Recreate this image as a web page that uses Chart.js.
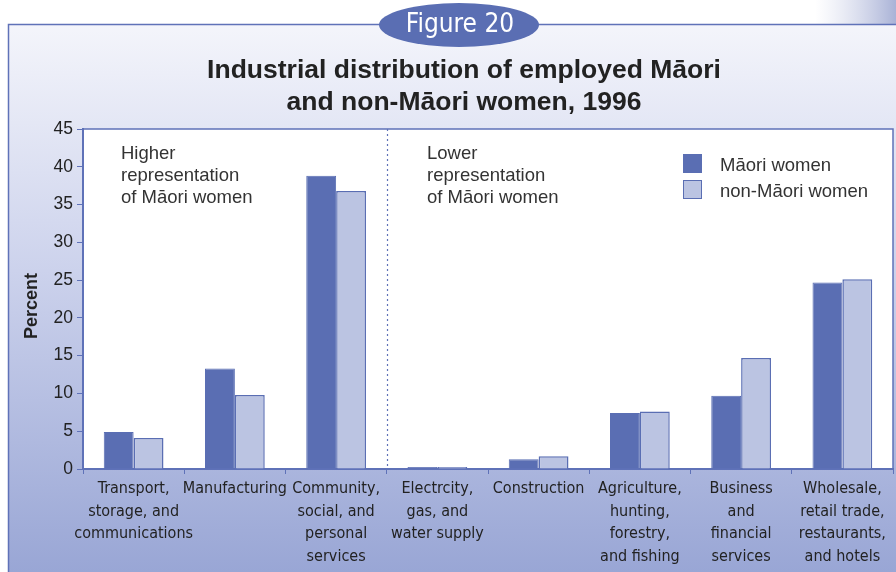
<!DOCTYPE html>
<html>
<head>
<meta charset="utf-8">
<script src="https://cdn.jsdelivr.net/npm/chart.js@4.4.1/dist/chart.umd.min.js"></script>
<style>
  html, body { margin: 0; padding: 0; background: #fff; }
  #wrap { width: 896px; height: 572px; position: relative; }
</style>
</head>
<body>
<div id="wrap"><canvas id="c" width="896" height="572"></canvas></div>
<script>
// Industrial distribution of employed Māori and non-Māori women, 1996
const categories = [
  ["Transport,", "storage, and", "communications"],
  ["Manufacturing"],
  ["Community,", "social, and", "personal", "services"],
  ["Electrcity,", "gas, and", "water supply"],
  ["Construction"],
  ["Agriculture,", "hunting,", "forestry,", "and fishing"],
  ["Business", "and", "financial", "services"],
  ["Wholesale,", "retail trade,", "restaurants,", "and hotels"],
];
const maoriWomen    = [4.9, 13.3, 38.8, 0.25, 1.3, 7.4, 9.7, 24.7];
const nonMaoriWomen = [4.1, 9.8, 36.8, 0.25, 1.7, 7.6, 14.7, 25.1];
const yTicks = [0, 5, 10, 15, 20, 25, 30, 35, 40, 45];

const C = {
  dark: "#5a6eb3", light: "#bbc4e2", edge: "#5a6eb3",
  ink: "#222", axis: "#5f72b8",
};
const SANS = "'Liberation Sans', Arial, sans-serif";
const NARROW = "'Liberation Sans Narrow', 'DejaVu Sans Condensed', 'Liberation Sans', sans-serif";

const decor = {
  id: "decor",
  beforeDraw(chart) {
    const { ctx, width, height } = chart;
    ctx.save();
    ctx.fillStyle = "#fff";
    ctx.fillRect(0, 0, width, height);
    // panel gradient
    const g = ctx.createLinearGradient(0, 24, 0, height);
    g.addColorStop(0, "#f4f5fb");
    g.addColorStop(0.45, "#ccd2ec");
    g.addColorStop(1, "#99a6d5");
    ctx.fillStyle = g;
    ctx.fillRect(8, 24, width - 8, height - 24);
    // corner decoration
    const cg = ctx.createLinearGradient(815, 0, 896, 0);
    cg.addColorStop(0, "rgba(200,205,230,0)");
    cg.addColorStop(1, "rgba(160,170,210,0.9)");
    ctx.fillStyle = cg;
    ctx.fillRect(815, 0, 81, 24);
    ctx.strokeStyle = C.axis;
    ctx.lineWidth = 1.5;
    ctx.beginPath();
    ctx.moveTo(8.5, height);
    ctx.lineTo(8.5, 24.5);
    ctx.lineTo(width, 24.5);
    ctx.stroke();
    // plot background
    const a = chart.chartArea;
    ctx.fillStyle = "#fff";
    ctx.fillRect(a.left, a.top, a.right - a.left, a.bottom - a.top);
    ctx.restore();
  },
  afterDraw(chart) {
    const { ctx } = chart;
    const a = chart.chartArea;
    const x = chart.scales.x;
    ctx.save();
    // plot frame (top and right)
    ctx.strokeStyle = C.axis;
    ctx.lineWidth = 1.5;
    ctx.beginPath();
    ctx.moveTo(a.left, a.top);
    ctx.lineTo(a.right, a.top);
    ctx.lineTo(a.right, a.bottom);
    ctx.stroke();
    // dotted divider between the two groups
    const dx = Math.round((x.getPixelForValue(2) + x.getPixelForValue(3)) / 2) + 0.5;
    ctx.setLineDash([2, 3]);
    ctx.lineWidth = 1.2;
    ctx.beginPath();
    ctx.moveTo(dx, a.top);
    ctx.lineTo(dx, a.bottom);
    ctx.stroke();
    ctx.setLineDash([]);

    // Figure oval
    ctx.fillStyle = C.dark;
    ctx.beginPath();
    ctx.ellipse(459, 25, 80, 22, 0, 0, Math.PI * 2);
    ctx.fill();
    ctx.fillStyle = "#fff";
    ctx.font = "26px " + NARROW;
    ctx.textAlign = "center";
    ctx.textBaseline = "middle";
    ctx.fillText("Figure 20", 460, 25);

    // title
    ctx.fillStyle = "#222";
    ctx.font = "bold 26.5px " + SANS;
    ctx.textBaseline = "alphabetic";
    ctx.fillText("Industrial distribution of employed Māori", 464, 78);
    ctx.fillText("and non-Māori women, 1996", 464, 110);

    // y title
    ctx.save();
    ctx.translate(37, 306);
    ctx.rotate(-Math.PI / 2);
    ctx.font = "bold 18px " + SANS;
    ctx.fillText("Percent", 0, 0);
    ctx.restore();

    // group notes
    ctx.textAlign = "left";
    ctx.fillStyle = "#333";
    ctx.font = "18.5px " + SANS;
    ["Higher", "representation", "of Māori women"].forEach((t, i) => ctx.fillText(t, 121, 159 + i * 22));
    ["Lower", "representation", "of Māori women"].forEach((t, i) => ctx.fillText(t, 427, 159 + i * 22));

    // legend
    const items = [["Māori women", C.dark], ["non-Māori women", C.light]];
    items.forEach(([t, col], i) => {
      const ly = 154 + i * 26;
      ctx.fillStyle = col;
      ctx.fillRect(683, ly, 19, 19);
      ctx.strokeStyle = C.edge;
      ctx.lineWidth = 1;
      ctx.strokeRect(683.5, ly + 0.5, 18, 18);
      ctx.fillStyle = "#333";
      ctx.fillText(t, 720, ly + 17);
    });
    ctx.restore();
  },
};

new Chart(document.getElementById("c"), {
  type: "bar",
  data: {
    labels: categories,
    datasets: [
      { label: "Māori women", data: maoriWomen, backgroundColor: C.dark, borderColor: C.edge, borderWidth: 1 },
      { label: "non-Māori women", data: nonMaoriWomen, backgroundColor: C.light, borderColor: C.edge, borderWidth: 1.5 },
    ],
  },
  options: {
    responsive: false,
    animation: false,
    layout: { padding: { top: 129, right: 3, left: 0, bottom: 0 } },
    datasets: { bar: { categoryPercentage: 0.59, barPercentage: 1 } },
    scales: {
      x: {
        grid: { drawOnChartArea: false, drawTicks: true, tickLength: 5, color: C.axis, offset: true },
        border: { color: C.axis, width: 2 },
        ticks: { color: C.ink, font: { family: NARROW, size: 16, lineHeight: 1.4 }, maxRotation: 0, autoSkip: false, padding: 4 },
        afterFit(s) { s.height = 103; },
      },
      y: {
        min: 0, max: 45,
        afterBuildTicks(s) { s.ticks = yTicks.map((v) => ({ value: v })); },
        grid: { drawOnChartArea: false, drawTicks: true, tickLength: 6, color: C.axis },
        border: { color: C.axis, width: 2 },
        ticks: { color: C.ink, font: { family: SANS, size: 17.5 }, padding: 4 },
        afterFit(s) { s.width = 83; },
      },
    },
    plugins: { legend: { display: false }, tooltip: { enabled: false }, title: { display: false } },
  },
  plugins: [decor],
});
</script>
</body>
</html>
